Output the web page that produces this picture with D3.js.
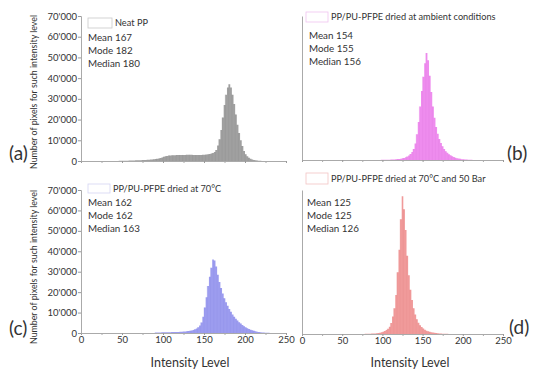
<!DOCTYPE html>
<html>
<head>
<meta charset="utf-8">
<script src="https://cdn.jsdelivr.net/npm/d3@7"></script>
<style>
  body { margin: 0; background: #fff; }
  svg text { font-family: Lato, "Open Sans", sans-serif; fill: #333; }
</style>
</head>
<body>
<svg id="chart" width="550" height="373"></svg>
<script>
// histogram counts, one value per 2-level bin, starting at the given level
var binWidth = 2

var neatPPStart = 40
var neatPP = [20, 40, 60, 80, 100, 120, 140, 160, 180, 200, 220, 250, 280, 310, 340, 370, 400, 440, 480, 520,
  570, 630, 700, 780, 870, 970, 1100, 1250, 1450, 1700, 2000, 2250, 2450, 2600, 2700, 2750, 2800, 2800, 2850, 2850,
  2900, 2900, 2950, 2950, 3000, 3000, 3000, 3000, 2950, 2950, 2900, 2900, 2900, 2950, 3000, 3050, 3150, 3250, 3400, 3600,
  3900, 4400, 5300, 7500, 10500, 15000, 21000, 27000, 32000, 35500, 37000, 35500, 32000, 27500, 22500, 17500, 13500, 10000, 7200, 4800,
  3300, 2300, 1600, 1100, 750, 500, 340, 230, 150, 100, 60, 35, 20, 10]

var ambientStart = 90
var ambient = [30, 40, 50, 60, 75, 90, 105, 125, 150, 180, 210, 250, 300, 360, 430, 520, 640, 800, 1000, 1300,
  1700, 2200, 2900, 3900, 5400, 8000, 12500, 18500, 26000, 33500, 40500, 47000, 52000, 48500, 41000, 33000, 26000, 20500, 16000, 12700,
  10200, 8300, 6700, 5400, 4300, 3500, 2800, 2250, 1800, 1450, 1150, 900, 700, 550, 420, 330, 250, 190, 140, 100,
  75, 55, 40, 25, 15]

var dried70Start = 90
var dried70 = [230, 250, 270, 290, 310, 330, 350, 370, 390, 410, 430, 460, 490, 520, 550, 590, 640, 700, 770, 860,
  970, 1100, 1250, 1500, 1800, 2200, 2800, 3700, 5200, 8000, 12500, 17500, 23000, 27500, 32000, 36000, 35500, 32500, 28500, 25000,
  22000, 19300, 17000, 15000, 13300, 11800, 10400, 9100, 8000, 7000, 6100, 5300, 4600, 3900, 3300, 2800, 2350, 1950, 1600, 1300,
  1050, 820, 640, 500, 380, 290, 220, 160, 120, 85, 60, 40, 25, 12]

var bar50Start = 70
var bar50 = [20, 30, 40, 55, 70, 90, 120, 150, 190, 240, 300, 380, 480, 620, 800, 1050, 1400, 1900, 2500, 3500,
  5300, 8500, 12500, 19000, 30000, 41000, 55800, 67000, 60700, 50500, 38000, 28500, 21500, 16500, 12500, 9500, 7200, 5500, 4300, 3400,
  2700, 2100, 1600, 1300, 1050, 850, 680, 550, 440, 350, 280, 220, 170, 130, 100, 75, 55, 40, 28, 18, 10]

var xTicks = [0, 50, 100, 150, 200, 250]
var xMinorTicks = [25, 75, 125, 175, 225]
var yTicks = [0, 10000, 20000, 30000, 40000, 50000, 60000, 70000]

var legendNames = ["Neat PP", "PP/PU-PFPE dried at ambient conditions", "PP/PU-PFPE dried at 70°C", "PP/PU-PFPE dried at 70°C and 50 Bar"]
var means = [167, 154, 162, 125]
var modes = [182, 155, 162, 125]
var medians = [180, 156, 163, 126]
var letters = ["(a)", "(b)", "(c)", "(d)"]

var svg = d3.select("#chart")

var panels = [
  { data: neatPP, start: neatPPStart, x0: 81, x1: 286, base: 161, top: 16, fill: "#a0a0a0", edge: "#8c8c8c", box: "#c8c8c8",
    yLabels: true, xLabels: false, leg: [88, 18, 24, 10], stats: [88, 38], letter: [9, 153] },
  { data: ambient, start: ambientStart, x0: 302, x1: 503, base: 160, top: 16, fill: "#ee8cee", edge: "#e27ae2", box: "#f0c4f0",
    yLabels: false, xLabels: false, leg: [306, 12, 22, 10], stats: [309, 36], letter: [507, 153] },
  { data: dried70, start: dried70Start, x0: 81, x1: 286, base: 333, top: 190, fill: "#9c9cef", edge: "#8a8ae6", box: "#d4d4f2",
    yLabels: true, xLabels: true, leg: [88, 184, 22, 9], stats: [88, 203], letter: [9, 328] },
  { data: bar50, start: bar50Start, x0: 302, x1: 503, base: 334, top: 190, fill: "#f09a9a", edge: "#e88a8a", box: "#f2c4c4",
    yLabels: false, xLabels: true, leg: [306, 173, 22, 11], stats: [307, 203], letter: [509, 327] }
]

panels.forEach(function(p, i) {
  var x = d3.scaleLinear().domain([0, 250]).range([p.x0, p.x1])
  var y = d3.scaleLinear().domain([0, 70000]).range([p.base, p.top])
  var g = svg.append("g")

  // histogram as a stepped area (last bin closed by repeating its value)
  var pts = p.data.map(function(d, j) { return [p.start + j * binWidth, d] })
  pts.push([p.start + p.data.length * binWidth, p.data[p.data.length - 1]])

  var area = d3.area()
    .curve(d3.curveStepAfter)
    .x(function(d) { return x(d[0]) })
    .y0(y(0))
    .y1(function(d) { return y(d[1]) })

  g.append("path")
    .datum(pts)
    .attr("d", area)
    .attr("fill", p.fill)

  // faint bin separators, as in the original histogram
  g.selectAll("line.bin")
    .data(pts.filter(function(d, j) { return j % 2 == 0 && d[1] > 800 }))
    .enter()
    .append("line")
    .attr("class", "bin")
    .attr("x1", function(d) { return x(d[0]) })
    .attr("x2", function(d) { return x(d[0]) })
    .attr("y1", y(0))
    .attr("y2", function(d) { return y(d[1]) })
    .attr("stroke", p.edge)
    .attr("stroke-width", 0.3)

  // x axis
  var xAxis = d3.axisBottom(x).tickValues(xTicks).tickSize(2).tickPadding(1)
  if (!p.xLabels) xAxis.tickFormat("")
  var gx = g.append("g")
    .attr("transform", "translate(0," + p.base + ")")
    .call(xAxis)
  gx.selectAll("line").attr("stroke", "#999")
  gx.select(".domain").attr("stroke", "#aaa")
  gx.selectAll("text").attr("font-size", "9.5px").attr("fill", "#333").attr("font-family", "Lato, sans-serif")
  g.append("g")
    .attr("transform", "translate(0," + p.base + ")")
    .call(d3.axisBottom(x).tickValues(xMinorTicks).tickSize(2).tickFormat(""))
    .call(function(s) { s.select(".domain").remove(); s.selectAll("line").attr("stroke", "#aaa") })

  // y axis
  var yAxis = d3.axisLeft(y).tickValues(yTicks).tickSize(3).tickPadding(1)
    .tickFormat(function(d) { return d3.format(",")(d).replace(/,/g, "'") })
  if (!p.yLabels) yAxis.tickValues([]).tickSizeOuter(0)
  var gy = g.append("g")
    .attr("transform", "translate(" + p.x0 + ",0)")
    .call(yAxis)
  gy.selectAll("line").attr("stroke", "#999")
  gy.select(".domain").attr("stroke", "#aaa")
  gy.selectAll("text").attr("font-size", "9.5px").attr("fill", "#333").attr("font-family", "Lato, sans-serif")

  // legend
  g.append("rect")
    .attr("x", p.leg[0]).attr("y", p.leg[1])
    .attr("width", p.leg[2]).attr("height", p.leg[3])
    .attr("fill", "#fff").attr("stroke", p.box).attr("stroke-width", 0.8)
  g.append("text")
    .attr("x", p.leg[0] + p.leg[2] + 3)
    .attr("y", p.leg[1] + p.leg[3] / 2)
    .attr("dy", "0.35em")
    .attr("font-size", "9.2px")
    .text(legendNames[i])

  var lines = ["Mean " + means[i], "Mode " + modes[i], "Median " + medians[i]]
  g.selectAll("text.stat")
    .data(lines)
    .enter()
    .append("text")
    .attr("class", "stat")
    .attr("x", p.stats[0])
    .attr("y", function(d, j) { return p.stats[1] + j * 12.8 })
    .attr("dy", "0.35em")
    .attr("font-size", "9.8px")
    .text(function(d) { return d })

  g.append("text")
    .attr("x", p.letter[0])
    .attr("y", p.letter[1])
    .attr("dy", "0.35em")
    .attr("font-size", "19px")
    .attr("fill", "#222")
    .text(letters[i])
})

// axis titles
;[92, 267].forEach(function(cy) {
  svg.append("text")
    .attr("transform", "translate(37," + cy + ") rotate(-90)")
    .attr("text-anchor", "middle")
    .attr("font-size", "8.8px")
    .text("Number of pixels for such intensity level")
})
;[190, 410].forEach(function(cx) {
  svg.append("text")
    .attr("x", cx)
    .attr("y", 363)
    .attr("dy", "0.35em")
    .attr("text-anchor", "middle")
    .attr("font-size", "12.5px")
    .text("Intensity Level")
})
</script>
</body>
</html>
